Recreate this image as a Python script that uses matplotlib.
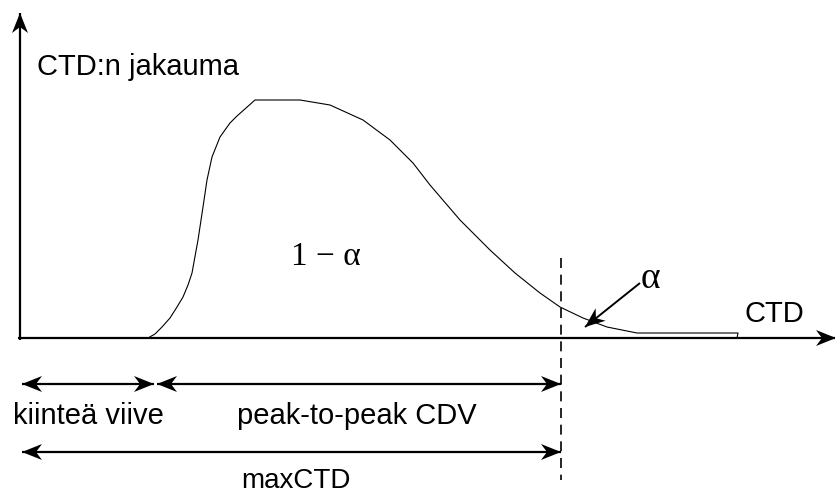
import numpy as np
import matplotlib
matplotlib.use("Agg")
import matplotlib.pyplot as plt
from matplotlib.patches import Polygon

# distribution curve (pixel frame, y grows downward)
curve_x = [148, 155, 162, 170, 177, 183, 188, 192, 198, 203, 207, 212, 220, 230,
           237, 255, 300, 330, 363, 390, 413, 430, 460, 490, 515, 540, 560, 583,
           607, 637, 738, 737]
curve_y = [338, 334, 327, 318, 307, 297, 285, 273, 240, 207, 180, 157, 137, 123,
           116, 100, 100, 105, 120, 140, 163, 185, 220, 250, 273, 293, 307, 318,
           327, 333, 333, 338]

axis_y = 338
axis_x = 20
max_ctd = 561
fixed_delay_end = 155

sans = "Liberation Sans"
serif = "Liberation Serif"

fig = plt.figure(figsize=(8.35, 4.94), dpi=100)
ax = fig.add_axes([0, 0, 1, 1])
ax.set_xlim(0, 835)
ax.set_ylim(494, 0)
ax.axis("off")


def head(x0, y0, x1, y1, length=20, width=8, notch=6):
    # notched arrow head with tip at (x1, y1)
    d = np.array([x1 - x0, y1 - y0], float)
    d /= np.hypot(*d)
    n = np.array([-d[1], d[0]])
    tip = np.array([x1, y1], float)
    back = tip - d * length
    pts = [tip, back + n * width, tip - d * (length - notch), back - n * width]
    ax.add_patch(Polygon(pts, closed=True, color="black", lw=0, zorder=3))


def arrow(x0, y0, x1, y1, both=False, lw=1.6):
    ax.plot([x0, x1], [y0, y1], color="black", lw=lw, solid_capstyle="butt")
    head(x0, y0, x1, y1)
    if both:
        head(x1, y1, x0, y0)


# axes
arrow(axis_x, axis_y + 2, axis_x, 13)
arrow(axis_x - 2, axis_y, 836, axis_y)

# curve
ax.plot(curve_x, curve_y, color="black", lw=0.8)

# maxCTD dashed line
ax.plot([max_ctd, max_ctd], [258, 480], color="black", lw=1.2, dashes=(6, 4))

# alpha pointer
arrow(640, 283, 585, 327, lw=1.4)

# dimension arrows
arrow(22, 384, fixed_delay_end - 1, 384, both=True)
arrow(fixed_delay_end + 2, 384, max_ctd, 384, both=True)
arrow(22, 452, max_ctd, 452, both=True)

fs = 21
ax.text(37, 75, "CTD:n jakauma", fontsize=fs, family=sans, ha="left", va="baseline")
ax.text(745, 322, "CTD", fontsize=fs, family=sans, ha="left", va="baseline")
ax.text(13, 424, "kiinteä viive", fontsize=fs, family=sans, ha="left", va="baseline")
ax.text(357, 424, "peak-to-peak CDV", fontsize=fs, family=sans, ha="center", va="baseline")
ax.text(296, 488, "maxCTD", fontsize=20, family=sans, ha="center", va="baseline")
ax.text(326, 265, "1 \u2212 \u03b1", fontsize=24, family=serif, ha="center", va="baseline")
ax.text(641, 288, "\u03b1", fontsize=27, family=serif, ha="left", va="baseline")

fig.savefig("out.png", dpi=100)
